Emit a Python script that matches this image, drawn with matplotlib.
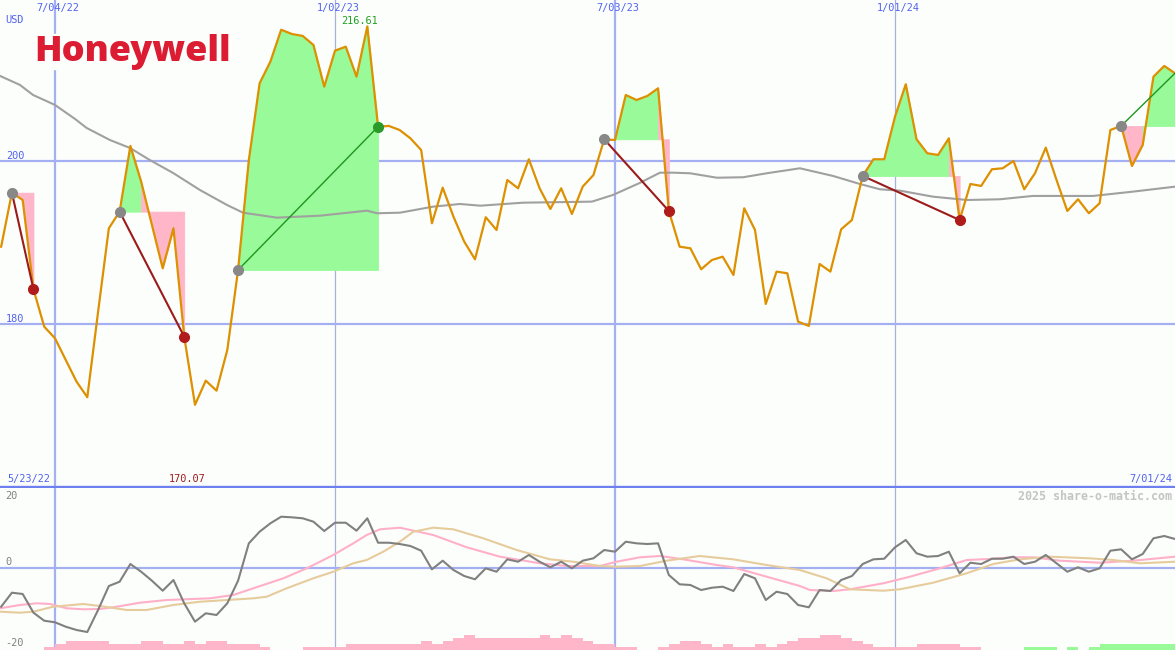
import numpy as np
import matplotlib
matplotlib.use("Agg")
import matplotlib.pyplot as plt
import matplotlib.transforms as mtransforms

# weekly closes, weeks counted from 7/04/22 (week 0); first point 5/23/22 is week -6 (off-chart)
weeks = np.arange(-5, 105)
price = [
    189.52, 196.16, 195.26, 184.28, 179.68,
    178.25, 175.58, 172.92, 171.00, 181.49,
    191.78, 193.83, 201.91, 197.52, 192.19,
    186.86, 191.78, 178.45, 170.07, 173.04,
    171.81, 176.81, 186.65, 200.18, 209.62,
    212.28, 216.20, 215.68, 215.44, 214.33,
    209.20, 213.63, 214.12, 210.43, 216.61,
    204.28, 204.37, 203.87, 202.85, 201.41,
    192.40, 196.78, 193.21, 190.14, 187.97,
    193.14, 191.57, 197.72, 196.70, 200.27,
    196.70, 194.16, 196.70, 193.54, 196.90,
    198.34, 202.73, 202.64, 208.18, 207.56,
    208.06, 209.00, 193.91, 189.52, 189.32,
    186.74, 187.88, 188.29, 186.04, 194.24,
    191.57, 182.47, 186.45, 186.25, 180.30,
    179.77, 187.39, 186.45, 191.66, 192.80,
    198.22, 200.27, 200.27, 205.51, 209.50,
    202.73, 201.01, 200.80, 202.85, 192.80,
    197.23, 196.99, 199.04, 199.16, 200.06,
    196.58, 198.55, 201.70, 197.72, 193.91,
    195.35, 193.63, 194.86, 203.87, 204.37,
    199.45, 202.03, 210.43, 211.75, 210.85,
]

# long moving average (grey)
ma_wk = [-5.1, -3.25, -2.04, 0, 1.86, 2.94, 5.1, 6.96, 8.8, 10.96, 13.46, 15.97,
         17.46, 20.6, 24.6, 26.74, 28.97, 29.9, 32.03, 35.1, 37.6, 39.5, 43.45,
         49.86, 51.81, 54.3, 56.17, 57.4, 58.96, 61.47, 63.9, 66.1, 69.17, 72.24,
         74.74, 76.6, 78.46, 81.52, 84.68, 87.74, 90.8, 96.4, 100.1, 104.0]
ma_val = [210.52, 209.41, 208.18, 206.95, 205.23, 204.12, 202.64, 201.66, 200.18,
          198.59, 196.49, 194.65, 193.70, 193.09, 193.33, 193.63, 193.95, 193.63,
          193.70, 194.44, 194.77, 194.56, 194.93, 195.06, 195.88, 197.36, 198.62,
          198.62, 198.55, 198.00, 198.06, 198.55, 199.16, 198.22, 197.23, 196.58,
          196.41, 195.67, 195.26, 195.35, 195.76, 195.76, 196.29, 196.90]

# trades: entry week, exit week (last one still open)
entries = [-4, 6, 17, 51, 75, 99]
exits = [-2, 12, 30, 57, 84, 104]

# lower panel: momentum (grey), and its two averages
mom = [
    -9.63, -6.17, -6.49, -11.11, -13.09,
    -13.48, -14.57, -15.38, -15.88, -10.44,
    -4.52, -3.46, 0.91, -0.99, -3.21,
    -5.68, -3.04, -8.79, -13.33, -11.26,
    -11.68, -8.79, -3.21, 6.02, 8.89,
    10.96, 12.59, 12.44, 12.20, 11.36,
    9.06, 11.11, 11.11, 9.14, 12.20,
    6.17, 6.17, 5.85, 5.36, 4.20,
    -0.40, 1.73, -0.57, -2.05, -2.86,
    -0.15, -0.99, 2.07, 1.48, 3.14,
    1.48, 0.10, 1.48, -0.15, 1.73,
    2.32, 4.37, 3.95, 6.42, 6.02,
    5.85, 6.02, -1.80, -4.10, -4.27,
    -5.51, -4.94, -4.69, -5.75, -1.56,
    -2.62, -7.98, -5.93, -6.49, -9.21,
    -9.78, -5.51, -5.75, -3.04, -2.05,
    0.91, 2.07, 2.22, 5.04, 6.84,
    3.56, 2.72, 2.89, 3.95, -1.38,
    1.23, 0.91, 2.22, 2.22, 2.72,
    0.91, 1.48, 3.14, 1.09, -0.99,
    0.10, -0.99, -0.15, 4.20, 4.54,
    2.07, 3.38, 7.26, 7.83, 7.09,
]
pink_wk = [-5.11, -3.25, -1.7, -0.46, 1.09, 2.63, 4.18, 5.73, 7.89, 10.37, 14.39,
           16.56, 18.41, 21.2, 23.37, 24.61, 25.84, 27.7, 28.94, 30.18, 32.03,
           35.13, 38.23, 41.32, 45.03, 47.51, 50.6, 52.15, 54.32, 56.18, 58.34,
           61.44, 62.98, 66.08, 69.17, 70.1, 72.27, 73.82, 76.91, 79.39, 82.17,
           84.65, 86.82, 88.98, 90.84, 93.31, 97.03, 100.12, 104.0]
pink_val = [-10.02, -9.21, -8.79, -8.96, -10.02, -10.27, -10.2, -9.63, -8.64,
            -7.98, -7.56, -6.74, -5.09, -2.62, -0.15, 1.48, 3.14, 6.02, 8.07,
            9.48, 9.88, 8.07, 5.04, 2.72, 1.09, 0.42, 0.42, 1.48, 2.57, 2.89,
            2.07, 0.67, 0.10, -2.22, -4.52, -5.51, -5.75, -5.33, -3.85, -2.22,
            -0.15, 1.90, 2.15, 2.57, 2.57, 1.73, 1.23, 1.73, 2.72]
tan_wk = [-5.11, -3.25, -2.01, -0.16, 2.63, 4.18, 6.66, 8.51, 10.98, 13.46, 18.41,
          19.66, 21.51, 23.98, 25.84, 27.7, 28.94, 30.48, 32.03, 33.27, 35.13,
          36.98, 39.77, 42.87, 45.96, 48.12, 50.6, 52.15, 54.32, 56.8, 59.87,
          62.98, 66.08, 69.17, 71.65, 73.82, 76.91, 78.46, 81.55, 84.65, 87.12,
          89.6, 92.39, 96.1, 98.26, 100.74, 104.0]
tan_val = [-10.86, -11.11, -10.86, -9.63, -8.96, -9.46, -10.44, -10.44, -9.21,
           -8.4, -7.56, -7.16, -5.09, -2.62, -0.99, 1.09, 1.9, 3.95, 6.42, 8.89,
           9.88, 9.48, 7.26, 4.37, 2.07, 1.48, 0.42, 0.25, 0.42, 1.73, 2.89,
           2.07, 0.67, -0.57, -2.62, -5.33, -5.68, -5.33, -3.7, -1.38, 0.91,
           2.07, 2.72, 2.32, 1.9, 1.09, 1.48]

# weekly histogram at the bottom (negative pink, positive green)
hist = [
    0, 0, 0, 0, -1,
    -2, -3, -3, -3, -3,
    -2, -2, -2, -3, -3,
    -2, -2, -3, -2, -3,
    -3, -2, -2, -2, -1,
    0, 0, 0, -1, -1,
    -1, -1, -2, -2, -2,
    -2, -2, -2, -2, -3,
    -2, -3, -4, -5, -4,
    -4, -4, -4, -4, -4,
    -5, -4, -5, -4, -3,
    -2, -2, -1, -1, 0,
    0, -1, -2, -3, -3,
    -2, -1, -2, -1, -1,
    -2, -1, -2, -3, -4,
    -4, -5, -5, -4, -3,
    -2, -1, -1, -1, -1,
    -2, -2, -2, -2, -1,
    -1, 0, 0, 0, 0,
    1, 1, 1, 0, 1,
    0, 1, 2, 2, 2,
    2, 2, 2, 2, 0,
]

date_ticks = [0, 26, 52, 78]
date_labels = ["7/04/22", "1/02/23", "7/03/23", "1/01/24"]
price_ticks = [200, 180]
osc_ticks = [20, 0, -20]

bg = "#fcfefc"
grid_c = "#a4b0f2"
thin_c = "#a8b0dc"
blue_txt = "#5262f0"
mono = "DejaVu Sans Mono"
W, H = 1175, 650

fig = plt.figure(figsize=(11.75, 6.5), dpi=100)
fig.patch.set_facecolor(bg)
ax = fig.add_axes([0, 163 / H, 1, 487 / H])
ax2 = fig.add_axes([0, 0, 1, 162 / H])
ax3 = ax2.twinx()
xlim = (-55 / 10.77, 104)

for a in (ax, ax2, ax3):
    a.set_facecolor("none")
    a.set_xlim(*xlim)
    a.set_xticks([])
    a.set_yticks([])
    for s in a.spines.values():
        s.set_visible(False)
ax2.set_facecolor(bg)
ax.spines["bottom"].set_visible(True)
ax.spines["bottom"].set_color("#6e80f0")
ax.spines["bottom"].set_linewidth(1.7)

ax.set_ylim(159.96, 219.86)
ax2.set_ylim(-20.32, 19.68)
ax3.set_ylim(0, 54)

# grid
for a in (ax, ax2):
    for i, wk in enumerate(date_ticks):
        if i % 2 == 0:
            a.axvline(wk, color=grid_c, lw=1.6, zorder=1)
        else:
            a.axvline(wk, color=thin_c, lw=0.9, zorder=1)
for p in price_ticks:
    ax.axhline(p, color=grid_c, lw=1.6, zorder=1)
ax2.axhline(0, color=grid_c, lw=1.6, zorder=1)

# trade fills
green, pink = "#98fa98", "#ffb6c8"
for e, x in zip(entries, exits):
    ie, ix = e - weeks[0], x - weeks[0]
    lvl = price[ie]
    for i in range(ie, ix):
        c = green if price[i + 1] >= lvl else pink
        ax.fill_between(weeks[i:i + 2], price[i:i + 2], lvl, color=c,
                        lw=0.6, edgecolor=c, zorder=2)

ax.plot(ma_wk, ma_val, color="#a0a0a0", lw=1.5, zorder=3)
ax.plot(weeks, price, color="#dd9000", lw=1.6, zorder=4)

for k, (e, x) in enumerate(zip(entries, exits)):
    ie, ix = e - weeks[0], x - weeks[0]
    win = price[ix] >= price[ie]
    lc = "#1e961e" if win else "#9b1b1b"
    ax.plot([e, x], [price[ie], price[ix]], color=lc, lw=1.0 if win else 1.5, zorder=5)
    ax.plot(e, price[ie], "o", ms=7, color="#888888", zorder=6)
    if k < len(entries) - 1:
        ax.plot(x, price[ix], "o", ms=7, color="#2a9a2a" if win else "#b01c1c", zorder=6)

# lower panel
ax2.plot(pink_wk, pink_val, color="#ffb0c8", lw=1.5, zorder=3)
ax2.plot(tan_wk, tan_val, color="#e6cc9c", lw=1.5, zorder=3)
ax2.plot(weeks, mom, color="#808080", lw=1.5, zorder=4)
hv = np.array(hist)
ax3.bar(weeks, np.abs(hv), width=1, align="edge", lw=0,
        color=np.where(hv > 0, "#98fa98", "#ffb6c8"), zorder=2)

# text
def ftext(x, y, s, **kw):
    kw.setdefault("family", mono)
    kw.setdefault("fontsize", 7.4)
    kw.setdefault("va", "center")
    fig.text(x / W, 1 - y / H, s, **kw)

for wk, lab in zip(date_ticks, date_labels):
    ftext(55 + wk * 10.77 + 3, 8, lab, ha="center", color=blue_txt)
ftext(5, 20, "USD", color=blue_txt)
ftext(6, 156, str(price_ticks[0]), color=blue_txt)
ftext(6, 319, str(price_ticks[1]), color=blue_txt)
ftext(7, 479, "5/23/22", color=blue_txt)
ftext(1172, 479, "7/01/24", ha="right", color=blue_txt)
ftext(5, 496, str(osc_ticks[0]), color="#808080")
ftext(5, 562, str(osc_ticks[1]), color="#808080")
ftext(5, 643, str(osc_ticks[2]), color="#808080")
ftext(1172, 496, "2025 share-o-matic.com", ha="right", color="#c4c4c4",
      fontsize=8.4, fontweight="bold")

imax = int(np.argmax(price))
imin = int(np.argmin(price))
tr = mtransforms.blended_transform_factory(ax.transData, fig.transFigure)
fig.text(weeks[imax] - 0.7, 1 - 20.5 / H, f"{price[imax]:.2f}", transform=tr,
         ha="center", va="center", family=mono, fontsize=7.4, color="#22a022")
fig.text(weeks[imin] - 0.7, 1 - 479 / H, f"{price[imin]:.2f}", transform=tr,
         ha="center", va="center", family=mono, fontsize=7.4, color="#a01c1c")

# logo sits on a patch of background that hides the grid line behind it
logo_bg = plt.Rectangle((33 / W, 1 - 69 / H), 205 / W, 35 / H,
                        transform=fig.transFigure, color=bg, zorder=5)
fig.add_artist(logo_bg)
fig.text(34 / W, 1 - 61.5 / H, "Honeywell", fontsize=26, fontweight=800,
         color="#dc1c32", va="baseline", ha="left", family="Open Sans", zorder=6)

fig.savefig("out.png", dpi=100, facecolor=bg)
